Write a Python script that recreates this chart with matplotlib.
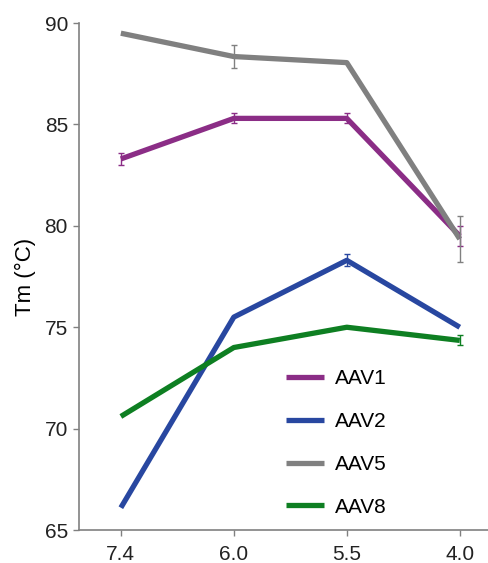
import matplotlib
matplotlib.use("Agg")
import matplotlib.pyplot as plt
import numpy as np

plt.rcParams['font.family'] = ['Liberation Sans', 'DejaVu Sans']

ph_labels = ["7.4", "6.0", "5.5", "4.0"]
series = ["AAV1", "AAV2", "AAV5", "AAV8"]
aav1 = [83.3, 85.3, 85.3, 79.5]
aav1_err = [0.3, 0.25, 0.25, 0.5]
aav2 = [66.1, 75.5, 78.3, 75.0]
aav2_err = [0.0, 0.0, 0.3, 0.0]
aav5 = [89.5, 88.35, 88.05, 79.35]
aav5_err = [0.0, 0.55, 0.0, 1.15]
aav8 = [70.6, 74.0, 75.0, 74.35]
aav8_err = [0.0, 0.0, 0.0, 0.25]
colors = ["#8B2D86", "#2847A0", "#808080", "#0E7F22"]

fig = plt.figure(figsize=(4.88, 5.63), dpi=100)
ax = fig.add_axes([0.162, 0.0586, 0.838, 0.9004])

x = np.arange(len(ph_labels))
data = [(aav1, aav1_err), (aav2, aav2_err), (aav5, aav5_err), (aav8, aav8_err)]
for name, (vals, errs), c in zip(series, data, colors):
    ax.plot(x, vals, color=c, lw=3.8, label=name, solid_capstyle='butt', zorder=2)
    errs_arr = np.array(errs)
    mask = errs_arr > 0
    ax.errorbar(x[mask], np.array(vals)[mask], yerr=errs_arr[mask], fmt='none',
                ecolor=c, elinewidth=1.0, capsize=2.5, capthick=1.0, zorder=3)

ax.set_xlim(-0.37, 3.25)
ax.set_ylim(65, 90)
ax.set_xticks(x)
ax.set_xticklabels(ph_labels)
ax.set_yticks([65, 70, 75, 80, 85, 90])
ax.set_ylabel("Tm (°C)", fontsize=16, labelpad=6)
ax.tick_params(axis='both', labelsize=15, direction='out', length=4.5, width=1,
               color='#808080', labelcolor='#222222')
ax.tick_params(axis='x', pad=6)
for s in ['top', 'right']:
    ax.spines[s].set_visible(False)
for s in ['left', 'bottom']:
    ax.spines[s].set_color('#808080')
    ax.spines[s].set_linewidth(1.2)

leg = ax.legend(loc='upper left', bbox_to_anchor=(0.506, 0.317), frameon=False,
                fontsize=15, handlelength=1.83, labelspacing=1.14, handletextpad=0.53,
                borderpad=0, borderaxespad=0)
for line in leg.get_lines():
    line.set_linewidth(3.8)

fig.savefig("out.png", dpi=100)
